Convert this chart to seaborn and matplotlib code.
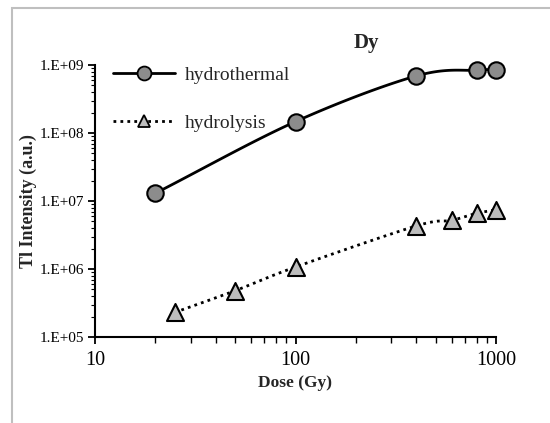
import numpy as np
import pandas as pd
import matplotlib
matplotlib.use("Agg")
import matplotlib.pyplot as plt
from matplotlib.lines import Line2D
from matplotlib.patches import Rectangle
from matplotlib.ticker import LogLocator, FixedLocator, FixedFormatter, NullFormatter
import seaborn as sns

# ---- data ----
hydrothermal_dose = [20, 100, 400, 800, 1000]
hydrothermal_tl = [1.3e7, 1.47e8, 6.9e8, 8.4e8, 8.5e8]
hydrolysis_dose = [25, 50, 100, 400, 600, 800, 1000]
hydrolysis_tl = [2.3e5, 4.8e5, 1.07e6, 4.3e6, 5.2e6, 6.6e6, 7.4e6]
series_names = ["hydrothermal", "hydrolysis"]
x_ticks = [10, 100, 1000]
x_ticklabels = ["10", "100", "1000"]
y_ticks = [1e5, 1e6, 1e7, 1e8, 1e9]
y_ticklabels = ["1.E+05", "1.E+06", "1.E+07", "1.E+08", "1.E+09"]

sns.set_theme(style="white")
plt.rcParams["font.family"] = ["Liberation Serif", "DejaVu Serif"]


def smooth(xs, ys, n=30):
    """Bezier (Catmull-Rom) smoothing in log-log space, like Excel's smoothed line."""
    lx = np.log10(np.asarray(xs, float))
    ly = np.log10(np.asarray(ys, float))
    px = np.concatenate([[2 * lx[0] - lx[1]], lx, [2 * lx[-1] - lx[-2]]])
    py = np.concatenate([[2 * ly[0] - ly[1]], ly, [2 * ly[-1] - ly[-2]]])
    outx, outy = [], []
    t = np.linspace(0, 1, n)
    for i in range(1, len(px) - 2):
        for arr, out in ((px, outx), (py, outy)):
            p0, p1, p2, p3 = arr[i - 1], arr[i], arr[i + 1], arr[i + 2]
            c1 = p1 + (p2 - p0) / 6
            c2 = p2 - (p3 - p1) / 6
            seg = ((1 - t) ** 3) * p1 + 3 * ((1 - t) ** 2) * t * c1 + 3 * (1 - t) * t ** 2 * c2 + t ** 3 * p2
            out.extend(seg)
    return 10 ** np.array(outx), 10 ** np.array(outy)


fig = plt.figure(figsize=(5.5, 4.23), dpi=100)
fig.patch.set_facecolor("white")
fig.patches.append(Rectangle((12 / 550, -0.1), 1.2, 1 - 8 / 423 + 0.1, transform=fig.transFigure,
                             fill=False, edgecolor="#bfbfbf", linewidth=1.5))
ax = fig.add_axes([95 / 550, 1 - 337 / 423, (496 - 95) / 550, (337 - 65) / 423])
ax.set_facecolor("none")

sx1, sy1 = smooth(hydrothermal_dose, hydrothermal_tl)
sx2, sy2 = smooth(hydrolysis_dose, hydrolysis_tl)
df1 = pd.DataFrame({"dose": sx1, "tl": sy1})
df2 = pd.DataFrame({"dose": sx2, "tl": sy2})
sns.lineplot(data=df1, x="dose", y="tl", ax=ax, color="black", linewidth=2.0, sort=False, estimator=None)
sns.lineplot(data=df2, x="dose", y="tl", ax=ax, color="black", linewidth=2.0, linestyle=(0, (1, 1.5)),
             sort=False, estimator=None)

pts1 = pd.DataFrame({"dose": hydrothermal_dose, "tl": hydrothermal_tl})
pts2 = pd.DataFrame({"dose": hydrolysis_dose, "tl": hydrolysis_tl})
sns.scatterplot(data=pts1, x="dose", y="tl", ax=ax, marker="o", s=140, color="#8c8c8c",
                edgecolor="black", linewidth=1.5, zorder=5, clip_on=False)
sns.scatterplot(data=pts2, x="dose", y="tl", ax=ax, marker="^", s=150, color="#bdbdbd",
                edgecolor="black", linewidth=1.5, zorder=5, clip_on=False)

ax.set_xscale("log")
ax.set_yscale("log")
ax.set_xlim(10, 1000)
ax.set_ylim(1e5, 1e9)

ax.xaxis.set_major_locator(FixedLocator(x_ticks))
ax.xaxis.set_major_formatter(FixedFormatter(x_ticklabels))
ax.yaxis.set_major_locator(FixedLocator(y_ticks))
ax.yaxis.set_major_formatter(FixedFormatter(y_ticklabels))
ax.xaxis.set_minor_locator(LogLocator(base=10, subs=np.arange(2, 10)))
ax.yaxis.set_minor_locator(LogLocator(base=10, subs=np.arange(2, 10)))
ax.xaxis.set_minor_formatter(NullFormatter())
ax.yaxis.set_minor_formatter(NullFormatter())

ax.tick_params(axis="x", which="major", direction="out", length=5, width=1.3, labelsize=14.5,
               bottom=True, colors="black", pad=5)
ax.tick_params(axis="x", which="minor", direction="out", length=4, width=1.0, bottom=True, colors="black")
ax.tick_params(axis="y", which="major", direction="out", length=5, width=1.3, labelsize=11,
               left=True, colors="black", pad=3)
ax.tick_params(axis="y", which="minor", direction="out", length=3, width=0.8, left=True, colors="black")

for s in ["top", "right"]:
    ax.spines[s].set_visible(False)
for s in ["left", "bottom"]:
    ax.spines[s].set_color("black")
    ax.spines[s].set_linewidth(1.5)

ax.set_xlabel("Dose (Gy)", fontsize=12.5, fontweight="bold", labelpad=4)
ax.set_ylabel("Tl Intensity (a.u.)", fontsize=13, fontweight="bold", labelpad=2)
ax.grid(False)

fig.text(366 / 550, 1 - 43 / 423, "Dy", fontsize=15, fontweight="bold", ha="center", va="center")

handles = [
    Line2D([], [], color="black", linewidth=2.0, marker="o", markersize=10, markerfacecolor="#8c8c8c",
           markeredgecolor="black", markeredgewidth=1.3),
    Line2D([], [], color="black", linewidth=2.0, linestyle=(0, (1, 1.5)), marker="^", markersize=8,
           markerfacecolor="#bdbdbd", markeredgecolor="black", markeredgewidth=1.3),
]
ax.legend(handles, series_names, loc="upper left", bbox_to_anchor=(0.0, 1.06), frameon=False,
          fontsize=14, handlelength=3.2, handletextpad=0.5, labelspacing=1.55)

fig.savefig("out.png", dpi=100)
